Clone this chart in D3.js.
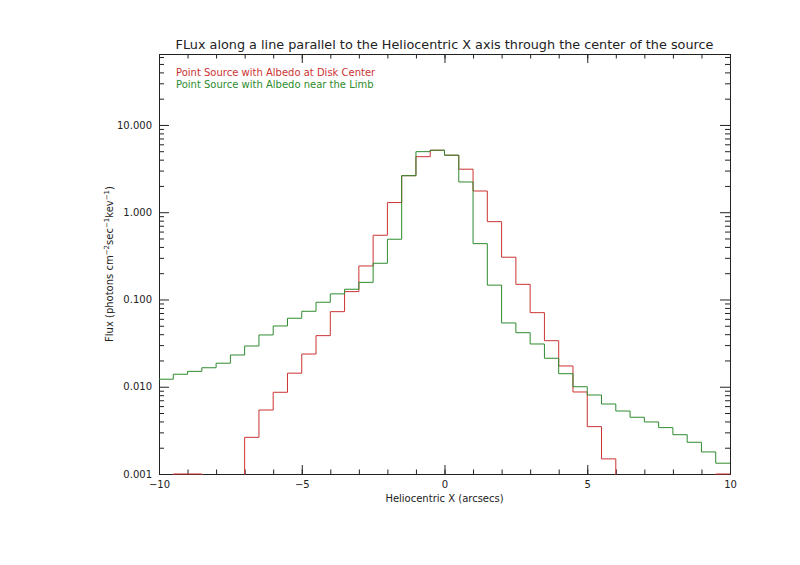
<!DOCTYPE html>
<html>
<head>
<meta charset="utf-8">
<script src="https://cdn.jsdelivr.net/npm/d3@7"></script>
<style>
  body { margin: 0; background: #fff; }
  text { font-family: "DejaVu Sans", sans-serif; fill: #222; }
</style>
</head>
<body>
<svg id="chart" width="800" height="565"></svg>
<script>
// bin edges: 40 bins of 0.5 arcsec from -10 to 10 (left edge of each bin)
var binStart = d3.range(40).map(function (i) { return -10 + i * 0.5; });

// values (below 0.001 means off the bottom of the axis)
var diskCenter = [0.0005, 0.001, 0.001, 0.0005, 0.0005, 0.0005, 0.00263, 0.00541, 0.00864, 0.0143,
    0.0237, 0.0385, 0.0725, 0.123, 0.242, 0.544, 1.29, 2.62, 4.33, 5.13,
    4.50, 3.11, 1.75, 0.779, 0.305, 0.149, 0.0706, 0.0337, 0.0173, 0.00871,
    0.00349, 0.00149, 0.0005, 0.0005, 0.0005, 0.0005, 0.0005, 0.0005, 0.0005, 0.001];

var nearLimb = [0.0122, 0.0139, 0.0150, 0.0165, 0.0186, 0.0231, 0.0293, 0.0392, 0.0497, 0.0609,
    0.0732, 0.0929, 0.116, 0.131, 0.157, 0.260, 0.490, 2.62, 4.94, 5.13,
    4.50, 2.22, 0.436, 0.146, 0.0538, 0.0416, 0.0309, 0.0212, 0.0141, 0.0100,
    0.00804, 0.00634, 0.00527, 0.00447, 0.00395, 0.00340, 0.00282, 0.00231, 0.00179, 0.00133];

var yMajor = [0.001, 0.01, 0.1, 1, 10];
var xMajor = [-10, -5, 0, 5, 10];

var series = [
    {name: "Point Source with Albedo at Disk Center", values: diskCenter, color: "#cc3333"},
    {name: "Point Source with Albedo near the Limb", values: nearLimb, color: "#2e8b2e"}
];

var pLeft = 159, pRight = 730, pTop = 54, pBottom = 474;

var svg = d3.select("#chart");

var x = d3.scaleLinear().domain([-10, 10]).range([pLeft, pRight]);
var y = d3.scaleLog().domain([0.001, 65]).range([pBottom, pTop]);

var yMinor = [];
[0.001, 0.01, 0.1, 1, 10].forEach(function (d) {
    for (var k = 2; k <= 9; k++) {
        if (d * k < 65) yMinor.push(d * k);
    }
});

svg.append("defs").append("clipPath").attr("id", "plotclip")
    .append("rect").attr("x", pLeft).attr("y", pTop)
    .attr("width", pRight - pLeft).attr("height", pBottom - pTop + 1);

// axes (ticks point inward, like the original)
function styleAxis(g) {
    g.select(".domain").attr("stroke", "#222");
    g.selectAll(".tick line").attr("stroke", "#222");
    g.selectAll(".tick text").style("font-size", "10px").attr("fill", "#222");
}

svg.append("g").attr("transform", "translate(0," + pBottom + ")")
    .call(d3.axisBottom(x).tickValues(xMajor).tickSize(-9).tickSizeOuter(0).tickPadding(7)
        .tickFormat(function (d) { return d < 0 ? "\u2212" + Math.abs(d) : d; }))
    .call(styleAxis);
svg.append("g").attr("transform", "translate(0," + pBottom + ")")
    .call(d3.axisBottom(x).tickValues(d3.range(-9, 10)).tickSize(-4.5).tickSizeOuter(0).tickFormat(""))
    .call(styleAxis);
svg.append("g").attr("transform", "translate(0," + pTop + ")")
    .call(d3.axisTop(x).tickValues(xMajor).tickSize(-9).tickSizeOuter(0).tickFormat(""))
    .call(styleAxis);
svg.append("g").attr("transform", "translate(0," + pTop + ")")
    .call(d3.axisTop(x).tickValues(d3.range(-9, 10)).tickSize(-4.5).tickSizeOuter(0).tickFormat(""))
    .call(styleAxis);

svg.append("g").attr("transform", "translate(" + pLeft + ",0)")
    .call(d3.axisLeft(y).tickValues(yMajor).tickSize(-10).tickSizeOuter(0).tickPadding(7)
        .tickFormat(d3.format(".3f")))
    .call(styleAxis);
svg.append("g").attr("transform", "translate(" + pLeft + ",0)")
    .call(d3.axisLeft(y).tickValues(yMinor).tickSize(-5).tickSizeOuter(0).tickFormat(""))
    .call(styleAxis);
svg.append("g").attr("transform", "translate(" + pRight + ",0)")
    .call(d3.axisRight(y).tickValues(yMajor).tickSize(-10).tickSizeOuter(0).tickFormat(""))
    .call(styleAxis);
svg.append("g").attr("transform", "translate(" + pRight + ",0)")
    .call(d3.axisRight(y).tickValues(yMinor).tickSize(-5).tickSizeOuter(0).tickFormat(""))
    .call(styleAxis);

// histogram-style step lines
var line = d3.line()
    .x(function (d) { return x(d[0]); })
    .y(function (d) { return y(d[1]); })
    .curve(d3.curveStepAfter);

series.forEach(function (s) {
    var pts = binStart.map(function (b, i) { return [b, s.values[i]]; });
    pts.push([10, s.values[s.values.length - 1]]);
    svg.append("path")
        .datum(pts)
        .attr("clip-path", "url(#plotclip)")
        .attr("fill", "none")
        .attr("stroke", s.color)
        .attr("stroke-width", 1)
        .attr("d", line);
});

// title
svg.append("text")
    .attr("x", (pLeft + pRight) / 2).attr("y", 49)
    .attr("text-anchor", "middle")
    .style("font-size", "12.8px")
    .text("FLux along a line parallel to the Heliocentric X axis through the center of the source");

// legend
series.forEach(function (s, i) {
    svg.append("text")
        .attr("x", 176).attr("y", 76 + i * 12)
        .style("font-size", "10px")
        .style("fill", s.color)
        .text(s.name);
});

// axis titles
svg.append("text")
    .attr("x", (pLeft + pRight) / 2).attr("y", 502)
    .attr("text-anchor", "middle")
    .style("font-size", "10px")
    .text("Heliocentric X (arcsecs)");

var yl = svg.append("text")
    .attr("transform", "translate(113," + ((pTop + pBottom) / 2) + ") rotate(-90)")
    .attr("text-anchor", "middle")
    .style("font-size", "10px");
yl.append("tspan").text("Flux (photons cm");
yl.append("tspan").attr("dy", -4).style("font-size", "7px").text("\u22122");
yl.append("tspan").attr("dy", 4).text("sec");
yl.append("tspan").attr("dy", -4).style("font-size", "7px").text("\u22121");
yl.append("tspan").attr("dy", 4).text("kev");
yl.append("tspan").attr("dy", -4).style("font-size", "7px").text("\u22121");
yl.append("tspan").attr("dy", 4).text(")");
</script>
</body>
</html>
